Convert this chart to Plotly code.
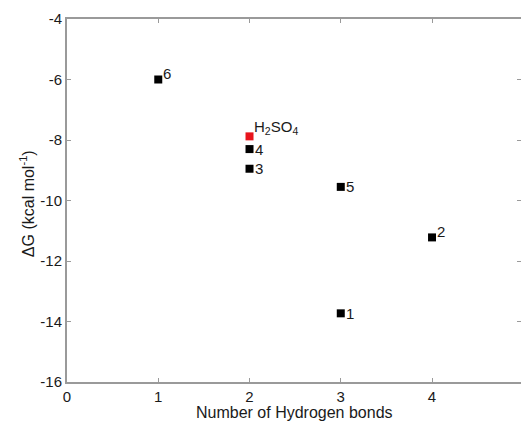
import plotly.graph_objects as go

# Data
hbonds = [3, 4, 2, 2, 3, 1]
delta_g = [-13.73, -11.22, -8.95, -8.3, -9.55, -6.0]
labels = ["1", "2", "3", "4", "5", "6"]
ref_name = "H<sub>2</sub>SO<sub>4</sub>"
ref_hbonds = [2]
ref_delta_g = [-7.88]
x_ticks = [0, 1, 2, 3, 4, 5]
y_ticks = [-16, -14, -12, -10, -8, -6, -4]

FONT = "Liberation Sans, Arial, sans-serif"
AXIS_COLOR = "#9a9a9a"
TEXT_COLOR = "#1a1a1a"

fig = go.Figure()
fig.add_trace(go.Scatter(
    x=hbonds, y=delta_g, mode="markers",
    marker=dict(symbol="square", size=8, color="black", line=dict(width=0)),
    showlegend=False, hoverinfo="x+y",
))
fig.add_trace(go.Scatter(
    x=ref_hbonds, y=ref_delta_g, mode="markers",
    marker=dict(symbol="square", size=8, color="#e8141c", line=dict(width=0)),
    showlegend=False, hoverinfo="x+y",
))
# invisible trace to activate secondary axes (top / right ticks)
fig.add_trace(go.Scatter(x=[None], y=[None], yaxis="y2", xaxis="x2",
                         showlegend=False, hoverinfo="skip"))

# per-label offsets (superscript style for 6 and 2)
yshift = {"1": 0, "2": 6, "3": 0, "4": 0, "5": 0, "6": 6}
annotations = []
for x, y, t in zip(hbonds, delta_g, labels):
    annotations.append(dict(
        x=x, y=y, xref="x", yref="y", text=t, showarrow=False,
        xanchor="left", yanchor="middle", xshift=3, yshift=yshift[t],
        font=dict(family=FONT, size=15, color=TEXT_COLOR),
    ))
annotations.append(dict(
    x=ref_hbonds[0], y=ref_delta_g[0], xref="x", yref="y", text=ref_name,
    showarrow=False, xanchor="left", yanchor="middle", xshift=2, yshift=9,
    font=dict(family=FONT, size=15, color=TEXT_COLOR),
))
annotations.append(dict(
    x=0.5, y=-0.085, xref="paper", yref="paper", text="Number of Hydrogen bonds",
    showarrow=False, xanchor="center", yanchor="middle",
    font=dict(family=FONT, size=16, color=TEXT_COLOR),
))
annotations.append(dict(
    x=-0.088, y=0.49, xref="paper", yref="paper",
    text="ΔG (kcal mol<sup>-1</sup>)", textangle=-90,
    showarrow=False, xanchor="center", yanchor="middle",
    font=dict(family=FONT, size=16, color=TEXT_COLOR),
))

axis_common = dict(
    ticks="inside", ticklen=4, tickwidth=1, tickcolor=AXIS_COLOR,
    showgrid=False, zeroline=False,
    tickfont=dict(family=FONT, size=15, color=TEXT_COLOR),
)

fig.update_layout(
    width=521, height=423,
    margin=dict(l=67, r=0, t=19, b=41, pad=0),
    paper_bgcolor="white", plot_bgcolor="white",
    xaxis=dict(range=[0, 4.975], tickvals=x_ticks,
               ticktext=[str(v) for v in x_ticks],
               showline=True, linecolor=AXIS_COLOR, linewidth=2,
               mirror=False, **axis_common),
    xaxis2=dict(range=[0, 4.975], overlaying="x", side="top",
                tickvals=x_ticks, showticklabels=False,
                showline=True, linecolor=AXIS_COLOR, linewidth=2,
                ticks="inside", ticklen=4, tickcolor=AXIS_COLOR,
                showgrid=False, zeroline=False),
    yaxis=dict(range=[-16, -4], tickvals=y_ticks,
               ticktext=[str(v) for v in y_ticks],
               showline=True, linecolor=AXIS_COLOR, linewidth=2,
               mirror=False, **axis_common),
    yaxis2=dict(range=[-16, -4], overlaying="y", side="right",
                tickvals=y_ticks, showticklabels=False, showline=False,
                ticks="inside", ticklen=4, tickcolor=AXIS_COLOR,
                showgrid=False, zeroline=False),
    annotations=annotations,
    font=dict(family=FONT, color=TEXT_COLOR),
)

fig.write_html("out.html")
